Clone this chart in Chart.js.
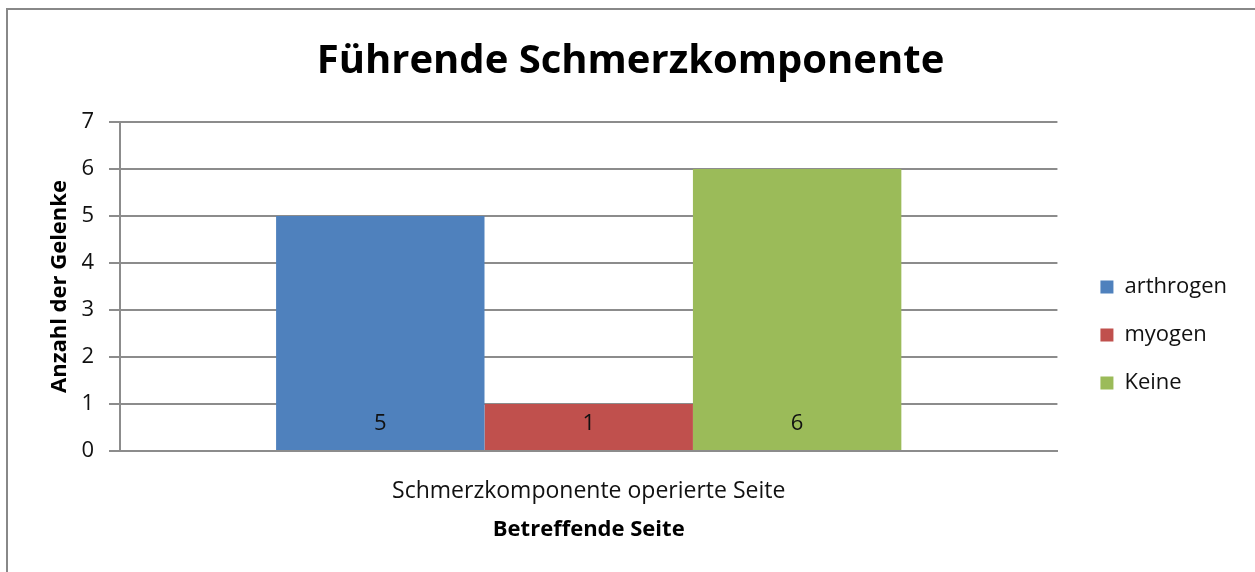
<!DOCTYPE html>
<html>
<head>
<meta charset="utf-8">
<script src="https://cdn.jsdelivr.net/npm/chart.js@4"></script>
<style>
  html, body { margin: 0; padding: 0; background: #fff; }
  #wrap { position: relative; width: 1255px; height: 572px; overflow: hidden; }
  #frame { position: absolute; left: 6px; top: 8px; width: 1300px; height: 620px; border: 2px solid #888; box-sizing: border-box; }
  canvas { position: absolute; left: 0; top: 0; }
</style>
</head>
<body>
<div id="wrap">
  <div id="frame"></div>
  <canvas id="myChart" width="1255" height="572"></canvas>
</div>
<script>
const categories = ['Schmerzkomponente operierte Seite'];
const seriesNames = ['arthrogen', 'myogen', 'Keine'];
const arthrogen = [5];
const myogen = [1];
const keine = [6];
const yTicks = [0, 1, 2, 3, 4, 5, 6, 7];

const colors = ['#4F81BD', '#C0504D', '#9BBB59'];
const FONT = '"Open Sans", Lato, sans-serif';
const gridColor = '#8c8c8c';

// Werte unten in die Balken schreiben
const valueLabels = {
  id: 'valueLabels',
  afterDatasetsDraw(chart) {
    const ctx = chart.ctx;
    ctx.save();
    ctx.font = '22px ' + FONT;
    ctx.fillStyle = '#111';
    ctx.textAlign = 'center';
    ctx.textBaseline = 'middle';
    chart.data.datasets.forEach((ds, i) => {
      chart.getDatasetMeta(i).data.forEach((bar, j) => {
        ctx.fillText(String(ds.data[j]), bar.x, bar.base - 26);
      });
    });
    ctx.restore();
  }
};

const config = {
  type: 'bar',
  data: {
    labels: categories,
    datasets: [
      { label: seriesNames[0], data: arthrogen, backgroundColor: colors[0] },
      { label: seriesNames[1], data: myogen, backgroundColor: colors[1] },
      { label: seriesNames[2], data: keine, backgroundColor: colors[2] }
    ]
  },
  options: {
    responsive: false,
    animation: false,
    layout: { padding: { left: 24, right: 18, top: 0, bottom: 29 } },
    datasets: { bar: { categoryPercentage: 0.667, barPercentage: 1 } },
    plugins: {
      title: {
        display: true,
        text: 'Führende Schmerzkomponente',
        color: '#000',
        font: { family: FONT, size: 40, weight: 'bold' },
        padding: { top: 38, bottom: 36 }
      },
      legend: {
        position: 'right',
        title: { display: true, text: ' ', font: { size: 1 }, padding: 63 },
        labels: {
          color: '#111',
          font: { family: FONT, size: 22 },
          boxWidth: 13,
          boxHeight: 13,
          padding: 26
        }
      },
      tooltip: { enabled: false }
    },
    scales: {
      x: {
        afterFit: s => { s.height = 92; },
        grid: { display: false },
        border: { display: true, color: gridColor, width: 2 },
        ticks: { color: '#111', font: { family: FONT, size: 23 }, padding: 19 },
        title: {
          display: true,
          text: 'Betreffende Seite',
          color: '#000',
          font: { family: FONT, size: 22, weight: 'bold' },
          padding: { top: 0, bottom: 0 }
        }
      },
      y: {
        min: 0,
        max: 7,
        afterBuildTicks: s => { s.ticks = yTicks.map(v => ({ value: v })); },
        afterFit: s => { s.width = 96; },
        grid: { color: gridColor, lineWidth: 2, tickLength: 11 },
        border: { display: true, color: gridColor, width: 2 },
        ticks: { color: '#111', font: { family: FONT, size: 22 }, padding: 15 },
        title: {
          display: true,
          text: 'Anzahl der Gelenke',
          color: '#000',
          font: { family: FONT, size: 22, weight: 'bold' },
          padding: { top: 23, bottom: 0 }
        }
      },
      gap: {
        type: 'linear',
        position: 'right',
        display: true,
        afterFit: s => { s.width = 17; },
        grid: { display: false },
        border: { display: false },
        ticks: { display: false }
      }
    }
  },
  plugins: [valueLabels]
};

const myChart = new Chart(document.getElementById('myChart'), config);
</script>
</body>
</html>
